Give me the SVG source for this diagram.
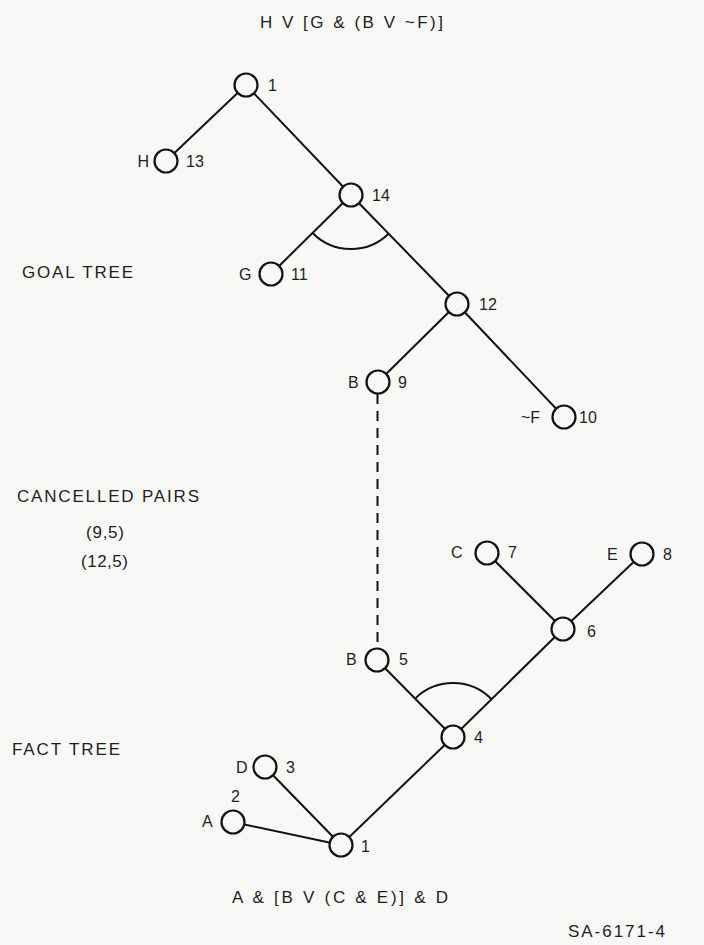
<svg xmlns="http://www.w3.org/2000/svg" width="704" height="945" viewBox="0 0 704 945">
<style>
  .t { font-family: "Liberation Sans", Arial, sans-serif; font-size: 16px; fill: #1e1e1e; }
  .lbl { font-family: "Liberation Sans", Arial, sans-serif; font-size: 17px; fill: #1e1e1e; }
  .edge { stroke: #111; stroke-width: 2; fill: none; }
  .dash { stroke: #111; stroke-width: 2; fill: none; stroke-dasharray: 10 7; }
  .node circle { fill: #f8f8f6; stroke: #111; stroke-width: 2.2; }
</style>
<rect x="0" y="0" width="704" height="945" fill="#f8f8f6"/>

<text class="lbl" x="260" y="28" textLength="183" lengthAdjust="spacing">H V [G &amp; (B V ~F)]</text>
<text class="lbl" x="22" y="278" textLength="111" lengthAdjust="spacing">GOAL TREE</text>
<text class="lbl" x="17" y="502" textLength="182" lengthAdjust="spacing">CANCELLED PAIRS</text>
<text class="lbl" x="86" y="538" textLength="38" lengthAdjust="spacing">(9,5)</text>
<text class="lbl" x="81" y="567" textLength="47" lengthAdjust="spacing">(12,5)</text>
<text class="lbl" x="12" y="755" textLength="108" lengthAdjust="spacing">FACT TREE</text>
<text class="lbl" x="232" y="903" textLength="216" lengthAdjust="spacing">A &amp; [B V (C &amp; E)] &amp; D</text>
<text class="lbl" x="568" y="937" textLength="97" lengthAdjust="spacing">SA-6171-4</text>

<g id="connectors">
  <line class="edge" x1="246" y1="85" x2="166" y2="161"/>
  <line class="edge" x1="246" y1="85" x2="351" y2="195"/>
  <line class="edge" x1="351" y1="195" x2="271" y2="274"/>
  <line class="edge" x1="351" y1="195" x2="457" y2="304"/>
  <line class="edge" x1="457" y1="304" x2="378" y2="382"/>
  <line class="edge" x1="457" y1="304" x2="564" y2="417"/>
  <path class="edge" d="M312.6,233 A54,54 0 0 0 388.6,233.7"/>
  <line class="dash" x1="377.5" y1="394" x2="377.5" y2="649"/>
  <line class="edge" x1="341" y1="845" x2="233" y2="822"/>
  <line class="edge" x1="341" y1="845" x2="265" y2="767"/>
  <line class="edge" x1="341" y1="845" x2="453" y2="737"/>
  <line class="edge" x1="453" y1="737" x2="377" y2="660"/>
  <line class="edge" x1="453" y1="737" x2="563" y2="629"/>
  <line class="edge" x1="563" y1="629" x2="487" y2="553"/>
  <line class="edge" x1="563" y1="629" x2="642" y2="554"/>
  <path class="edge" d="M415.1,698.6 A54,54 0 0 1 491.5,699.2"/>
</g>

<g id="goal-1" class="node"><circle cx="246" cy="85" r="11.5"/><text class="t" x="268" y="91">1</text></g>
<g id="goal-13" class="node"><circle cx="166" cy="161" r="11.5"/><text class="t" x="149" y="167" text-anchor="end">H</text><text class="t" x="186" y="167">13</text></g>
<g id="goal-14" class="node"><circle cx="351" cy="195" r="11.5"/><text class="t" x="372" y="201">14</text></g>
<g id="goal-11" class="node"><circle cx="271" cy="274" r="11.5"/><text class="t" x="239" y="280">G</text><text class="t" x="291" y="280">11</text></g>
<g id="goal-12" class="node"><circle cx="457" cy="304" r="11.5"/><text class="t" x="479" y="310">12</text></g>
<g id="goal-9" class="node"><circle cx="378" cy="382" r="11.5"/><text class="t" x="348" y="388">B</text><text class="t" x="398" y="388">9</text></g>
<g id="goal-10" class="node"><circle cx="564" cy="417" r="11.5"/><text class="t" x="521" y="423">~F</text><text class="t" x="579" y="423">10</text></g>

<g id="fact-7" class="node"><circle cx="487" cy="553" r="11.5"/><text class="t" x="451" y="558">C</text><text class="t" x="508" y="558">7</text></g>
<g id="fact-8" class="node"><circle cx="642" cy="554" r="11.5"/><text class="t" x="607" y="560">E</text><text class="t" x="663" y="560">8</text></g>
<g id="fact-6" class="node"><circle cx="563" cy="629" r="11.5"/><text class="t" x="587" y="637">6</text></g>
<g id="fact-5" class="node"><circle cx="377" cy="660" r="11.5"/><text class="t" x="346" y="665">B</text><text class="t" x="399" y="665">5</text></g>
<g id="fact-4" class="node"><circle cx="453" cy="737" r="11.5"/><text class="t" x="474" y="743">4</text></g>
<g id="fact-3" class="node"><circle cx="265" cy="767" r="11.5"/><text class="t" x="236" y="773">D</text><text class="t" x="286" y="773">3</text></g>
<g id="fact-2" class="node"><circle cx="233" cy="822" r="11.5"/><text class="t" x="231" y="802">2</text><text class="t" x="202" y="827">A</text></g>
<g id="fact-1" class="node"><circle cx="341" cy="845" r="11.5"/><text class="t" x="361" y="852">1</text></g>
</svg>
